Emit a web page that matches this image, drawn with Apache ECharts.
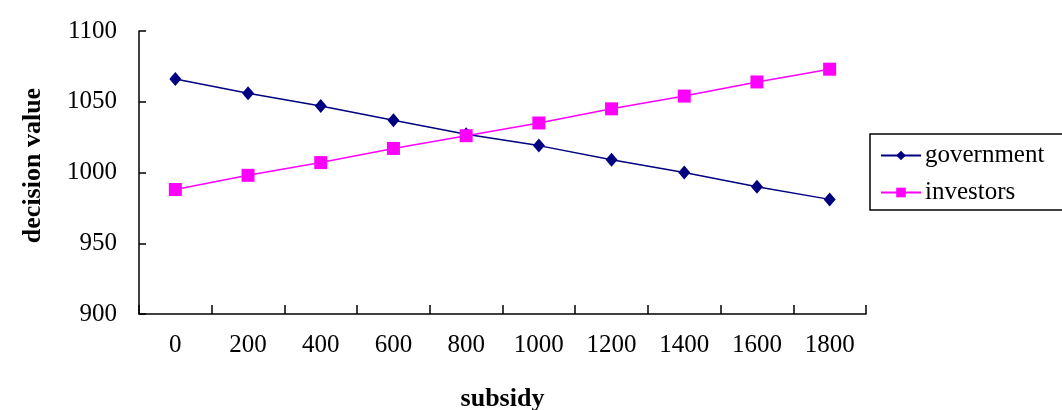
<!DOCTYPE html>
<html>
<head>
<meta charset="utf-8">
<title>decision value vs subsidy</title>
<script src="https://cdn.jsdelivr.net/npm/echarts@6/dist/echarts.min.js"></script>
<style>
  html, body { margin: 0; padding: 0; background: #fff; overflow: hidden; }
  #chart { width: 1062px; height: 410px; }
</style>
</head>
<body>
<div id="chart"></div>
<script>
// subsidy levels on the category axis
const subsidy = ['0', '200', '400', '600', '800', '1000', '1200', '1400', '1600', '1800'];
// decision values for each party
const government = [1066, 1056, 1047, 1037, 1027, 1019, 1009, 1000, 990, 981];
const investors = [988, 998, 1007, 1017, 1026, 1035, 1045, 1054, 1064, 1073];

const serif = '"Liberation Serif", "DejaVu Serif", serif';

const chart = echarts.init(document.getElementById('chart'), null, { renderer: 'canvas' });
chart.setOption({
  animation: false,
  backgroundColor: '#ffffff',
  grid: { left: 139, right: 196, top: 31, bottom: 96, containLabel: false, outerBoundsMode: 'none' },
  legend: {
    orient: 'vertical',
    left: 870,
    top: 134,
    padding: [9, 30, 5, 10],
    borderColor: '#000',
    borderWidth: 1.5,
    itemWidth: 40,
    itemHeight: 12,
    itemGap: 12,
    textStyle: { fontFamily: serif, fontSize: 25, color: '#000', padding: [0, 0, 0, -1] },
    data: ['government', 'investors']
  },
  xAxis: {
    type: 'category',
    data: subsidy,
    boundaryGap: true,
    name: 'subsidy',
    nameLocation: 'middle',
    nameGap: 72,
    nameTextStyle: { fontFamily: serif, fontSize: 26, fontWeight: 'bold', color: '#000' },
    axisLine: { lineStyle: { color: '#000', width: 1.5 } },
    axisTick: { show: true, inside: true, length: 9, alignWithLabel: false, lineStyle: { color: '#000', width: 1.5 } },
    axisLabel: { fontFamily: serif, fontSize: 25, color: '#000', margin: 19 },
    splitLine: { show: false }
  },
  yAxis: {
    type: 'value',
    min: 900,
    max: 1100,
    interval: 50,
    name: 'decision value',
    nameLocation: 'middle',
    nameRotate: 90,
    nameGap: 93,
    nameTextStyle: { fontFamily: serif, fontSize: 26, fontWeight: 'bold', color: '#000', padding: [0, 0, 0, 14] },
    axisLine: { show: true, lineStyle: { color: '#000', width: 1.5 } },
    axisTick: { show: true, inside: true, length: 7, lineStyle: { color: '#000', width: 1.5 } },
    axisLabel: { fontFamily: serif, fontSize: 25, color: '#000', margin: 22, formatter: v => String(v) },
    splitLine: { show: false }
  },
  series: [
    {
      name: 'government',
      type: 'line',
      data: government,
      symbol: 'diamond',
      symbolSize: [12, 14],
      itemStyle: { color: '#000080' },
      lineStyle: { color: '#000080', width: 1.5 }
    },
    {
      name: 'investors',
      type: 'line',
      data: investors,
      symbol: 'rect',
      symbolSize: 13,
      itemStyle: { color: '#ff00ff' },
      lineStyle: { color: '#ff00ff', width: 1.5 }
    }
  ]
});
</script>
</body>
</html>
